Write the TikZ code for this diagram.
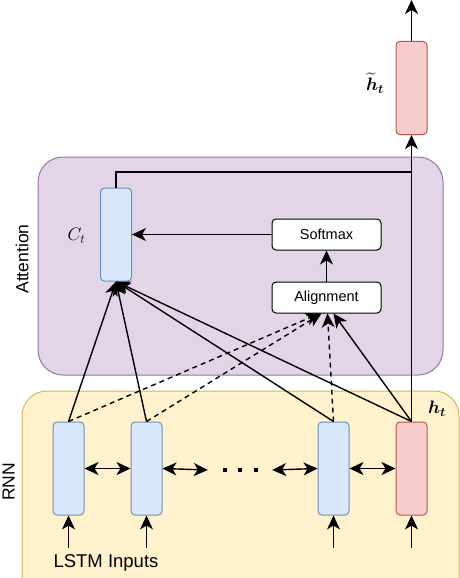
\RequirePackage{fix-cm}
\documentclass[tikz,border=0pt]{standalone}
\usepackage{amsmath,bm}
\usepackage{fontspec}
\setmainfont{Liberation Sans}
\usepackage{tikz}
\usetikzlibrary{
  arrows.meta,
  positioning
}
\definecolor{cellBlue}{HTML}{DAE8FC}
\definecolor{cellBlueLine}{HTML}{6C8EBF}
\definecolor{cellRed}{HTML}{F8CECC}
\definecolor{cellRedLine}{HTML}{B85450}
\definecolor{attnFill}{HTML}{E1D5E7}
\definecolor{attnLine}{HTML}{9673A6}
\definecolor{rnnFill}{HTML}{FFF2CC}
\definecolor{rnnLine}{HTML}{D6B656}
\tikzset{
  cellBox/.style={
    draw=cellBlueLine,
    fill=cellBlue,
    rounded corners=4pt,
    line width=1pt,
    minimum width=31pt,
    minimum height=93pt,
    inner sep=0pt
  },
  hiddenBox/.style={cellBox, draw=cellRedLine, fill=cellRed},
  opBox/.style={
    draw=black,
    fill=white,
    rounded corners=4pt,
    line width=1pt,
    minimum width=109pt,
    minimum height=31pt,
    inner sep=0pt,
    font=\fontsize{14.5}{16}\selectfont
  },
  panelBox/.style={rounded corners=25pt, line width=1pt},
  sideLabel/.style={rotate=90, inner sep=0pt, font=\fontsize{17.5}{19}\selectfont},
  mathLabel/.style={inner sep=0pt, font=\fontsize{18}{20}\selectfont},
  flowArrow/.style={-{Stealth[length=14pt, width=13pt, inset=4pt]}, line width=1.4pt},
  pairArrow/.style={{Stealth[length=14pt, width=13pt, inset=4pt]}-{Stealth[length=14pt, width=13pt, inset=4pt]}, line width=1.4pt},
  scoreArrow/.style={flowArrow, dash pattern=on 5pt off 4pt}
}
\begin{document}
\begin{tikzpicture}[x=1pt,y=-1pt]
  \useasboundingbox (0,0) rectangle (460,578);

  % panels
  \draw[panelBox, draw=rnnLine, fill=rnnFill] (22,391) rectangle (459,640);
  \draw[panelBox, draw=attnLine, fill=attnFill] (38,157) rectangle (443,375);
  \node[sideLabel] (rnnLabel) at (8.5,482) {RNN};
  \node[sideLabel] (attnLabel) at (22,259) {Attention};

  % cells
  \node[cellBox] (x1) at (68.5,468.5) {};
  \node[cellBox] (x2) at (146.5,468.5) {};
  \node[cellBox] (x3) at (333.5,468.5) {};
  \node[hiddenBox] (xt) at (411.5,468.5) {};
  \node[cellBox] (ctx) at (116,234.5) {};
  \node[hiddenBox] (hout) at (411.5,88) {};
  \node[inner sep=0pt] (dots) at (240,470) [minimum width=64pt]
    {\rule{4pt}{4pt}\hspace{11.5pt}\rule{4pt}{4pt}\hspace{11.5pt}\rule{4pt}{4pt}};

  \node[opBox] (softmax) at (326.5,234.5) {Softmax};
  \node[opBox] (align) at (326.5,297.5) {Alignment};

  % labels
  \node[mathLabel] (htLabel) at (437,409) {$\bm{h}_{\bm{t}}$};
  \node[mathLabel] (houtLabel) at (375,83) {$\widetilde{\bm{h}}_{\bm{t}}$};
  \node[mathLabel] (ctxLabel) at (76.5,236) {$C_t$};
  \node[inner sep=0pt, font=\fontsize{18.5}{20}\selectfont] (inLabel) at (106,563) {LSTM Inputs};

  \coordinate (top) at (411.5,0);
  \coordinate (join) at (411.5,172);

  % output path
  \draw[flowArrow] (xt.north) -- (hout.south);
  \draw[flowArrow] (hout.north) -- (top);
  \draw[line width=1.4pt] (ctx.north) |- (join);
  \draw[flowArrow] (softmax.west) -- (ctx.east);
  \draw[flowArrow] (align.north) -- (softmax.south);

  % context and scores
  \foreach \c in {x1,x2,x3,xt}
    \draw[flowArrow] (\c.north) -- (ctx.south);
  \draw[scoreArrow] (x1.north) -- ([xshift=-7pt]align.south);
  \draw[scoreArrow] (x2.north) -- ([xshift=-5pt]align.south);
  \draw[scoreArrow] (x3.north) -- ([xshift=1pt]align.south);
  \draw[flowArrow] (xt.north) -- ([xshift=7pt]align.south);

  % recurrence
  \draw[pairArrow] (x1.east) -- (x2.west);
  \draw[pairArrow] (x2.east) -- (dots.west);
  \draw[pairArrow] (dots.east) -- (x3.west);
  \draw[pairArrow] (x3.east) -- (xt.west);

  % inputs
  \foreach \c in {x1,x2,x3,xt}
    \draw[flowArrow] ([yshift=-32pt]\c.south) -- (\c.south);
\end{tikzpicture}
\end{document}
